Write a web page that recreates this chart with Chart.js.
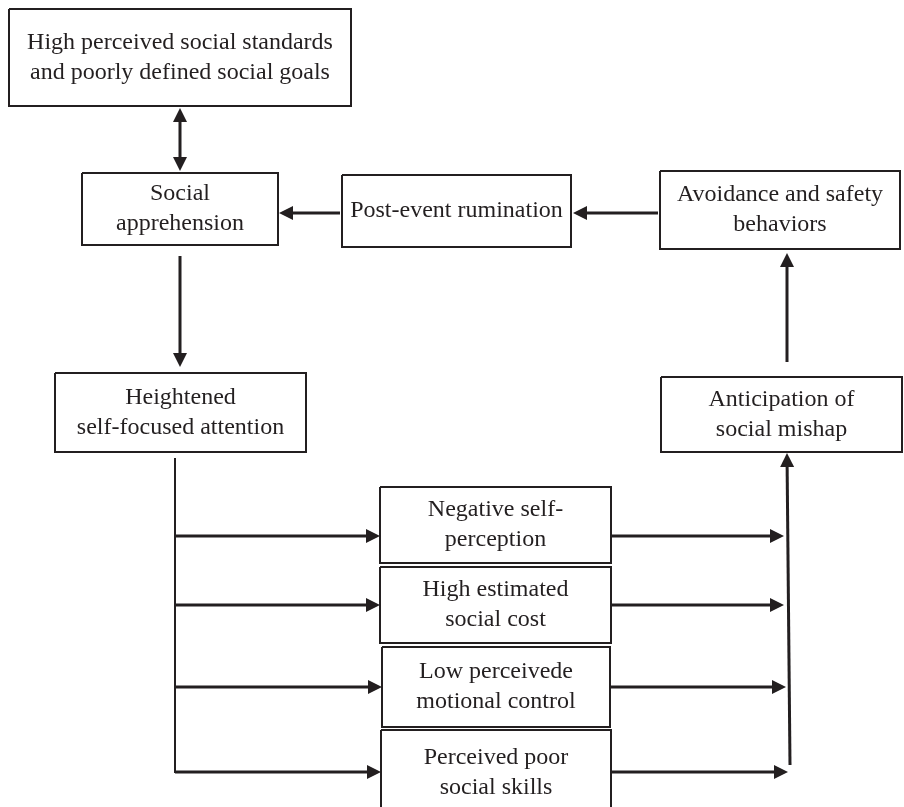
<!DOCTYPE html>
<html>
<head>
<meta charset="utf-8">
<script src="https://cdn.jsdelivr.net/npm/chart.js@4.4.1/dist/chart.umd.min.js"></script>
<style>
  html, body { margin: 0; padding: 0; background: #ffffff; }
  #wrap { width: 904px; height: 807px; position: relative; }
</style>
</head>
<body>
<div id="wrap"><canvas id="c"></canvas></div>
<script>
// ---- Diagram content ----
const nodeLabels = [
  ["High perceived social standards", "and poorly defined social goals"],
  ["Social", "apprehension"],
  ["Post-event rumination"],
  ["Avoidance and safety", "behaviors"],
  ["Heightened", "self-focused attention"],
  ["Anticipation of", "social mishap"],
  ["Negative self-", "perception"],
  ["High estimated", "social cost"],
  ["Low perceivede", "motional control"],
  ["Perceived poor", "social skills"]
];

// box corners in diagram units [left, top, right, bottom]
const nodeFrames = [
  [9, 9, 351, 106],
  [82, 173, 278, 245],
  [342, 175, 571, 247],
  [660, 171, 900, 249],
  [55, 373, 306, 452],
  [661, 377, 902, 452],
  [380, 487, 611, 563],
  [380, 567, 611, 643],
  [382, 647, 610, 727],
  [381, 730, 611, 815]
];

// connectors: from point, to point
const edgeFrom = [
  [180, 108], [180, 256], [340, 213], [658, 213], [787, 362], [175, 458],
  [175, 536], [175, 605], [175, 687], [175, 772],
  [611, 536], [611, 605], [610, 687], [611, 772],
  [790, 765]
];
const edgeTo = [
  [180, 171], [180, 367], [279, 213], [573, 213], [787, 253], [175, 773],
  [380, 536], [380, 605], [382, 687], [381, 772],
  [784, 536], [784, 605], [786, 687], [788, 772],
  [787, 453]
];
// arrow heads: "end", "both", "none"
const edgeHeads = [
  "both", "end", "end", "end", "end", "none",
  "end", "end", "end", "end",
  "end", "end", "end", "end",
  "end"
];

// ---- Build datasets ----
const INK = '#231f20';
const HEAD_LEN = 14, HEAD_HALF = 7;

function retract(p, q, d) { // move p toward q by d
  const dx = q[0] - p[0], dy = q[1] - p[1];
  const L = Math.hypot(dx, dy) || 1;
  return [p[0] + dx / L * d, p[1] + dy / L * d];
}

const datasets = [];
nodeFrames.forEach((f, i) => {
  datasets.push({
    label: 'box' + i,
    data: [
      {x: f[0], y: f[1]}, {x: f[2], y: f[1]}, {x: f[2], y: f[3]},
      {x: f[0], y: f[3]}, {x: f[0], y: f[1]}
    ],
    showLine: true, borderColor: INK, borderWidth: 2,
    pointRadius: 0, fill: false, tension: 0,
    borderJoinStyle: 'miter', clip: false
  });
});
edgeFrom.forEach((a, i) => {
  const b = edgeTo[i];
  const h = edgeHeads[i];
  let s = a, e = b;
  if (h === 'end' || h === 'both') e = retract(b, a, HEAD_LEN - 2);
  if (h === 'both') s = retract(a, b, HEAD_LEN - 2);
  datasets.push({
    label: 'edge' + i,
    data: [{x: s[0], y: s[1]}, {x: e[0], y: e[1]}],
    showLine: true, borderColor: INK, borderWidth: h === 'none' ? 2 : 3,
    pointRadius: 0, fill: false, tension: 0, clip: false,
    edgeIndex: i
  });
});

const headPlugin = {
  id: 'heads',
  afterDatasetsDraw(chart) {
    const ctx = chart.ctx;
    const xs = chart.scales.x, ys = chart.scales.y;
    const px = p => [xs.getPixelForValue(p[0]), ys.getPixelForValue(p[1])];
    function head(tip, from) {
      const t = px(tip), f = px(from);
      const dx = t[0] - f[0], dy = t[1] - f[1];
      const L = Math.hypot(dx, dy) || 1;
      const ux = dx / L, uy = dy / L;
      const bx = t[0] - ux * HEAD_LEN, by = t[1] - uy * HEAD_LEN;
      ctx.beginPath();
      ctx.moveTo(t[0], t[1]);
      ctx.lineTo(bx - uy * HEAD_HALF, by + ux * HEAD_HALF);
      ctx.lineTo(bx + uy * HEAD_HALF, by - ux * HEAD_HALF);
      ctx.closePath();
      ctx.fill();
    }
    ctx.save();
    ctx.fillStyle = INK;
    edgeFrom.forEach((a, i) => {
      const b = edgeTo[i], h = edgeHeads[i];
      if (h === 'end' || h === 'both') head(b, a);
      if (h === 'both') head(a, b);
    });
    ctx.restore();
  }
};

const textPlugin = {
  id: 'labels',
  afterDatasetsDraw(chart) {
    const ctx = chart.ctx;
    const xs = chart.scales.x, ys = chart.scales.y;
    const LINE = 30;
    ctx.save();
    ctx.fillStyle = INK;
    ctx.font = '24px "Liberation Serif", "Times New Roman", serif';
    ctx.textAlign = 'center';
    ctx.textBaseline = 'middle';
    nodeLabels.forEach((lines, i) => {
      const f = nodeFrames[i];
      const cx = (f[0] + f[2]) / 2, cy = (f[1] + f[3]) / 2;
      const n = lines.length;
      lines.forEach((t, k) => {
        const yv = cy + (k - (n - 1) / 2) * LINE;
        ctx.fillText(t, xs.getPixelForValue(cx), ys.getPixelForValue(yv));
      });
    });
    ctx.restore();
  }
};

new Chart(document.getElementById('c'), {
  type: 'scatter',
  data: { datasets },
  options: {
    responsive: true,
    maintainAspectRatio: false,
    devicePixelRatio: 1,
    animation: false,
    events: [],
    layout: { padding: 0 },
    plugins: { legend: { display: false }, tooltip: { enabled: false } },
    scales: {
      x: { type: 'linear', min: 0, max: 904, display: false },
      y: { type: 'linear', min: 0, max: 807, reverse: true, display: false }
    }
  },
  plugins: [headPlugin, textPlugin]
});
</script>
</body>
</html>
